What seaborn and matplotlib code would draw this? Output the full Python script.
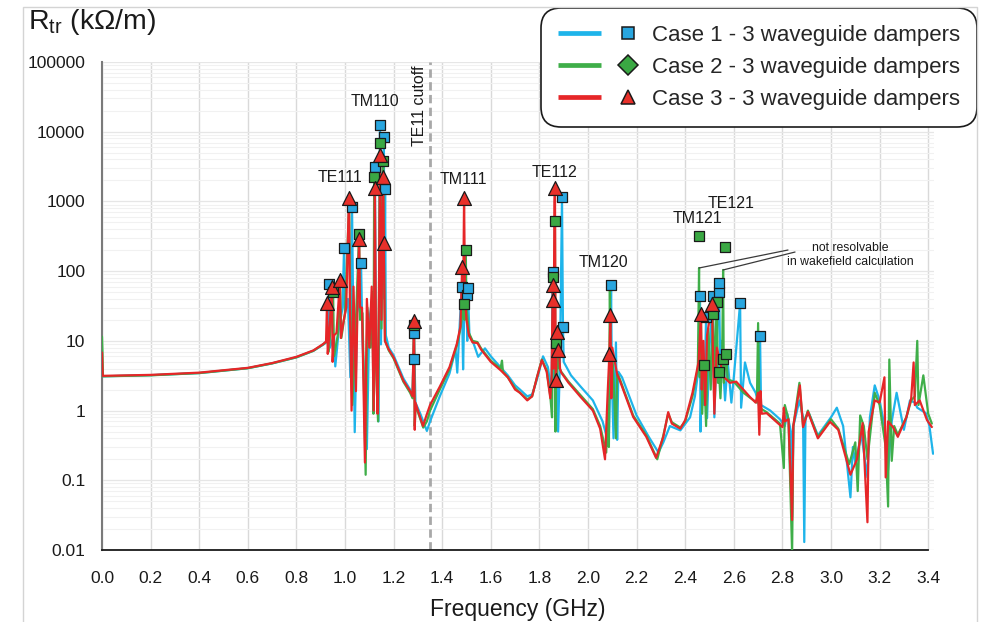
import numpy as np
import pandas as pd
import matplotlib
matplotlib.use("Agg")
import matplotlib.pyplot as plt
import seaborn as sns
from matplotlib.legend_handler import HandlerBase
from matplotlib.lines import Line2D
from matplotlib.patches import Rectangle
from matplotlib.ticker import LogLocator, NullFormatter

# ---------------------------------------------------------------- data
# Transverse impedance spectra (frequency in GHz, R_tr in kOhm/m)
case1_freq = [0.000, 0.20, 0.40, 0.60, 0.70, 0.80, 0.87, 0.91, 0.928, 0.934, 0.938, 0.955, 0.960,
              0.975, 0.990, 0.996, 1.000, 1.012, 1.022, 1.029, 1.034, 1.040, 1.050, 1.060, 1.066,
              1.072, 1.090, 1.100, 1.112, 1.118, 1.123, 1.128, 1.138, 1.144, 1.148, 1.160, 1.162,
              1.165, 1.168, 1.18, 1.20, 1.24, 1.268, 1.278, 1.284, 1.286, 1.29, 1.31, 1.337, 1.35,
              1.39, 1.43, 1.455, 1.462, 1.47, 1.480, 1.486, 1.490, 1.500, 1.503, 1.506, 1.512,
              1.53, 1.548, 1.576, 1.60, 1.64, 1.67, 1.70, 1.72, 1.75, 1.77, 1.79, 1.815, 1.835,
              1.85, 1.855, 1.858, 1.87, 1.877, 1.885, 1.893, 1.897, 1.90, 1.93, 1.97, 2.02, 2.06,
              2.085, 2.090, 2.095, 2.098, 2.105, 2.115, 2.12, 2.125, 2.14, 2.20, 2.25, 2.29, 2.31,
              2.337, 2.38, 2.42, 2.44, 2.455, 2.461, 2.463, 2.47, 2.478, 2.486, 2.49, 2.50, 2.514,
              2.52, 2.53, 2.539, 2.545, 2.55, 2.564, 2.575, 2.59, 2.60, 2.626, 2.63, 2.646, 2.667,
              2.69, 2.703, 2.708, 2.712, 2.75, 2.79, 2.81, 2.82, 2.835, 2.84, 2.845, 2.87, 2.885,
              2.89, 2.895, 2.91, 2.946, 3.00, 3.024, 3.05, 3.08, 3.09, 3.10, 3.125, 3.15, 3.16,
              3.18, 3.20, 3.22, 3.235, 3.25, 3.27, 3.30, 3.325, 3.345, 3.355, 3.39, 3.405, 3.42]
case1_rtr = [3.1, 3.22, 3.45, 4.05, 4.75, 5.8, 7.2, 8.8, 9.8, 65, 8, 12, 4.3,
             15, 30, 214, 25, 40, 3, 830, 20, 0.49, 25, 40, 130,
             10, 0.28, 20, 40, 3, 3100, 10, 0.7, 12500, 8.9, 8400, 40,
             1500, 12, 8, 6.2, 2.9, 2.0, 1.7, 13, 5.5, 1.3, 0.9, 0.51, 0.7,
             1.6, 3.4, 7.5, 3.5, 12, 59, 3.9, 20, 45, 10, 57, 12,
             9, 5.9, 7.8, 6.0, 4.2, 3.2, 2.3, 2.0, 1.6, 1.7, 2.8, 6.0, 4.2,
             1.8, 97, 3, 10, 0.5, 6, 1160, 16, 5, 3.2, 2.2, 1.4, 0.7,
             0.33, 1.5, 63, 3, 0.4, 9.5, 0.38, 3.6, 3.0, 0.85, 0.42, 0.25, 0.35,
             0.6, 0.52, 0.8, 1.6, 4, 44, 0.5, 6, 1.2, 22, 0.78, 8, 44,
             0.8, 10, 68, 3, 10, 1.4, 5, 1.3, 3, 35, 1.1, 4.9, 2.5,
             1.8, 1.2, 11.7, 1.2, 1.0, 0.75, 0.6, 0.9, 0.5, 0.03, 0.6, 1.4, 0.8,
             0.013, 0.8, 0.9, 0.44, 0.8, 1.1, 0.6, 0.057, 0.3, 0.18, 0.45, 0.11, 0.8,
             2.3, 1.4, 0.6, 0.14, 0.7, 1.8, 0.53, 1.4, 1.3, 1.1, 0.92, 0.6, 0.24]

case2_freq = [0.000, 0.002, 0.004, 0.20, 0.40, 0.60, 0.70, 0.80, 0.87, 0.91, 0.924, 0.930, 0.933,
              0.951, 0.955, 0.97, 0.98, 0.985, 1.00, 1.017, 1.022, 1.03, 1.045, 1.058, 1.062,
              1.072, 1.085, 1.092, 1.105, 1.113, 1.117, 1.120, 1.126, 1.136, 1.144, 1.150, 1.157,
              1.160, 1.165, 1.18, 1.20, 1.24, 1.268, 1.278, 1.284, 1.287, 1.29, 1.30, 1.322,
              1.337, 1.35, 1.39, 1.43, 1.46, 1.475, 1.488, 1.492, 1.497, 1.500, 1.51, 1.525,
              1.545, 1.56, 1.60, 1.64, 1.646, 1.65, 1.67, 1.70, 1.72, 1.75, 1.77, 1.79, 1.81,
              1.83, 1.845, 1.852, 1.857, 1.860, 1.864, 1.866, 1.868, 1.872, 1.878, 1.883, 1.89,
              1.92, 1.97, 2.02, 2.05, 2.075, 2.082, 2.086, 2.090, 2.094, 2.10, 2.115, 2.12, 2.13,
              2.186, 2.24, 2.285, 2.31, 2.33, 2.345, 2.38, 2.40, 2.43, 2.452, 2.457, 2.460,
              2.465, 2.470, 2.477, 2.486, 2.495, 2.505, 2.514, 2.52, 2.53, 2.535, 2.539, 2.545,
              2.552, 2.556, 2.559, 2.568, 2.575, 2.60, 2.64, 2.67, 2.695, 2.70, 2.705, 2.735,
              2.79, 2.806, 2.81, 2.825, 2.84, 2.845, 2.87, 2.885, 2.905, 2.946, 3.00, 3.03,
              3.075, 3.10, 3.11, 3.12, 3.135, 3.15, 3.18, 3.20, 3.225, 3.235, 3.24, 3.25, 3.26,
              3.275, 3.31, 3.33, 3.345, 3.355, 3.36, 3.38, 3.40, 3.415]
case2_rtr = [11.5, 6.9, 3.1, 3.2, 3.45, 4.05, 4.75, 5.8, 7.2, 8.9, 9.7, 15, 7,
             50, 6, 12, 60, 11, 25, 900, 30, 1.2, 20, 340, 20,
             25, 0.12, 30, 8, 50, 0.9, 2240, 6, 0.7, 6900, 15, 3800,
             150, 10, 7.3, 5.6, 2.6, 1.8, 1.5, 17, 0.6, 1.2, 0.95, 0.57,
             0.7, 1.0, 2.0, 3.9, 8.5, 15, 34, 20, 200, 30, 13, 10,
             9.6, 7.8, 5.2, 4.0, 5.2, 3.6, 3.0, 2.1, 1.8, 1.45, 1.6, 3.0, 5.4,
             3.8, 1.6, 0.8, 82, 5, 525, 0.5, 9.3, 3, 8, 4, 3.6,
             2.6, 1.65, 1.05, 0.6, 0.25, 1.2, 0.3, 60, 2, 7, 0.4, 3.4, 2.9,
             0.85, 0.44, 0.2, 0.44, 0.9, 0.68, 0.57, 0.7, 1.6, 4, 111, 3,
             20, 0.9, 4.5, 0.6, 15, 2, 24, 3, 36, 2.5, 3.6, 1.5,
             5.5, 104, 2.5, 6.5, 2.8, 2.6, 1.8, 1.5, 1.3, 18, 1.1, 0.95,
             0.65, 0.15, 1.2, 0.75, 0.009, 0.6, 2.5, 0.6, 1.0, 0.42, 0.75, 0.55,
             0.17, 0.35, 0.07, 0.85, 0.6, 0.2, 1.8, 1.2, 0.3, 0.042, 5.4, 0.19, 0.6,
             0.45, 0.8, 1.4, 1.6, 10, 1.2, 3.2, 0.9, 0.65]

case3_freq = [0.000, 0.003, 0.20, 0.40, 0.60, 0.70, 0.80, 0.87, 0.91, 0.922, 0.926, 0.929, 0.935,
              0.946, 0.949, 0.955, 0.965, 0.979, 0.983, 0.995, 1.005, 1.016, 1.020, 1.027, 1.035,
              1.045, 1.052, 1.058, 1.062, 1.070, 1.082, 1.090, 1.100, 1.110, 1.118, 1.123, 1.128,
              1.134, 1.140, 1.144, 1.150, 1.157, 1.160, 1.164, 1.18, 1.20, 1.24, 1.268, 1.278,
              1.284, 1.287, 1.29, 1.30, 1.321, 1.335, 1.35, 1.39, 1.43, 1.46, 1.475, 1.482, 1.486,
              1.490, 1.494, 1.50, 1.51, 1.525, 1.545, 1.56, 1.60, 1.64, 1.67, 1.70, 1.72, 1.75,
              1.77, 1.79, 1.81, 1.83, 1.845, 1.850, 1.854, 1.856, 1.858, 1.862, 1.864, 1.866,
              1.868, 1.872, 1.877, 1.880, 1.885, 1.89, 1.92, 1.97, 2.02, 2.05, 2.07, 2.08, 2.088,
              2.092, 2.096, 2.10, 2.12, 2.13, 2.186, 2.24, 2.28, 2.31, 2.33, 2.345, 2.38, 2.40,
              2.43, 2.455, 2.465, 2.468, 2.475, 2.482, 2.49, 2.51, 2.515, 2.52, 2.53, 2.55, 2.56,
              2.584, 2.61, 2.667, 2.69, 2.70, 2.705, 2.71, 2.715, 2.735, 2.79, 2.80, 2.806, 2.81,
              2.825, 2.84, 2.845, 2.872, 2.885, 2.905, 2.946, 2.996, 3.03, 3.08, 3.107, 3.13,
              3.15, 3.155, 3.18, 3.20, 3.22, 3.225, 3.235, 3.255, 3.275, 3.31, 3.33, 3.34,
              3.345, 3.365, 3.395, 3.415]
case3_rtr = [6.8, 3.15, 3.25, 3.5, 4.1, 4.8, 5.9, 7.3, 9.0, 9.8, 35, 6.5, 12,
             60, 5.0, 12, 13, 74, 11, 20, 30, 1120, 40, 1.0, 60,
             1.9, 40, 290, 30, 30, 0.18, 40, 8, 60, 1.0, 1550, 5,
             0.9, 50, 4600, 20, 2240, 250, 10, 7.5, 5.8, 2.7, 1.9, 1.6,
             19, 0.53, 1.3, 1.0, 0.6, 0.85, 1.2, 2.2, 4.2, 9, 16, 115, 30,
             1120, 40, 20, 12, 9.5, 9.3, 7.5, 5.0, 3.8, 3.0, 2.0, 1.8, 1.4,
             1.6, 3.0, 5.3, 3.6, 1.5, 3, 38, 63, 4, 1000, 1550, 20,
             2.75, 13.4, 7.4, 8, 4, 3.5, 2.5, 1.56, 1.0, 0.55, 0.2, 1.5, 6.5,
             23.4, 1.5, 8, 3.3, 2.75, 0.81, 0.42, 0.21, 0.42, 0.95, 0.65, 0.55, 0.73,
             1.8, 5, 24, 2, 10, 1.2, 12, 34, 5, 0.9, 8, 4, 3.0,
             2.5, 2.6, 1.56, 1.3, 1.8, 0.45, 1.9, 0.9, 0.92, 0.62, 0.58, 1.1, 0.7,
             0.75, 0.027, 0.6, 2.3, 0.58, 0.96, 0.40, 0.69, 0.53, 0.12, 0.2, 0.66,
             0.025, 0.5, 1.4, 1.3, 3.0, 0.11, 0.7, 0.58, 0.42, 0.8, 1.5, 4.9,
             1.2, 1.4, 0.73, 0.58]

# Resonant modes found by the eigenmode solver
case1_mode_freq = [0.934, 0.996, 1.029, 1.066, 1.123, 1.144, 1.160, 1.165, 1.284, 1.284, 1.480,
                   1.500, 1.506, 1.855, 1.893, 1.897, 2.095, 2.461, 2.486, 2.514, 2.539, 2.539,
                   2.626, 2.708]
case1_mode_rtr = [65, 214, 830, 130, 3100, 12500, 8400, 1500, 13, 5.5, 59,
                  45, 57, 97, 1160, 16, 63, 44, 22, 44, 50, 68,
                  35, 11.7]
case2_mode_freq = [0.951, 1.058, 1.120, 1.144, 1.157, 1.284, 1.490, 1.497, 1.857, 1.864, 1.868,
                   2.457, 2.477, 2.514, 2.530, 2.539, 2.556, 2.564, 2.568]
case2_mode_rtr = [50, 340, 2240, 6900, 3800, 17, 34, 200, 82, 525, 9.3,
                  316, 4.5, 24, 36, 3.6, 5.5, 222, 6.5]
case3_mode_freq = [0.926, 0.946, 0.979, 1.016, 1.058, 1.123, 1.144, 1.157, 1.160, 1.284, 1.482,
                   1.490, 1.856, 1.854, 1.864, 1.868, 1.872, 1.877, 2.088, 2.092, 2.465, 2.510]
case3_mode_rtr = [35, 60, 74, 1120, 290, 1550, 4600, 2240, 250, 19, 115,
                  1120, 63, 38, 1550, 2.75, 13.4, 7.4, 6.5, 23.4, 24, 34]

case_labels = ["Case 1 - 3 waveguide dampers",
               "Case 2 - 3 waveguide dampers",
               "Case 3 - 3 waveguide dampers"]
mode_names = ["TE111", "TM110", "TM111", "TE112", "TM120", "TM121", "TE121"]
y_ticks = [0.01, 0.1, 1, 10, 100, 1000, 10000, 100000]
y_tick_labels = ["0.01", "0.1", "1", "10", "100", "1000", "10000", "100000"]
x_ticks = [0.0, 0.2, 0.4, 0.6, 0.8, 1.0, 1.2, 1.4, 1.6, 1.8, 2.0, 2.2, 2.4, 2.6, 2.8, 3.0, 3.2, 3.4]
te11_cutoff = 1.35

# ---------------------------------------------------------------- style
sns.set_theme(style="white")
plt.rcParams["font.family"] = ["Liberation Sans", "DejaVu Sans"]
plt.rcParams["mathtext.fontset"] = "custom"
plt.rcParams["mathtext.rm"] = "Liberation Sans"
plt.rcParams["mathtext.it"] = "Liberation Sans:italic"
plt.rcParams["mathtext.bf"] = "Liberation Sans:bold"

c_blue, c_green, c_red = "#1eb4ea", "#3fae49", "#e62628"
m_blue, m_green, m_red = "#29a6df", "#3aa843", "#e8302a"

W, H = 994, 622
fig = plt.figure(figsize=(W / 100, H / 100), dpi=100)
x_max = 3.425
ax = fig.add_axes([102 / W, 1 - 550 / H, (243 * x_max) / W, 488 / H])
ax.set_yscale("log")

# outer frame of the figure panel
fig.patches.append(Rectangle((23 / W, -0.02), (977 - 23) / W, 1 - 7 / H + 0.02,
                             transform=fig.transFigure, fill=False,
                             ec="#d4d4d4", lw=1.0, zorder=0))

# grid
ax.set_axisbelow(True)
ax.yaxis.set_minor_locator(LogLocator(base=10, subs=np.arange(2, 10)))
ax.yaxis.set_minor_formatter(NullFormatter())
ax.grid(True, which="major", axis="x", color="#d9d9d9", lw=1.0)
ax.grid(True, which="major", axis="y", color="#e6e6e6", lw=0.9)
ax.grid(True, which="minor", axis="y", color="#f1f1f1", lw=0.8)

# TE11 cutoff
ax.axvline(te11_cutoff, color="#a8a8a8", ls=(0, (3, 1.6)), lw=2.0, zorder=1.5)

# impedance spectra
lw = 1.6
for fr, rt, col, z in [(case1_freq, case1_rtr, c_blue, 2),
                       (case2_freq, case2_rtr, c_green, 3),
                       (case3_freq, case3_rtr, c_red, 4)]:
    df = pd.DataFrame({"f": fr, "r": rt})
    sns.lineplot(data=df, x="f", y="r", ax=ax, color=col, lw=lw,
                 estimator=None, sort=False, zorder=z)

# eigenmodes
sns.scatterplot(x=case1_mode_freq, y=case1_mode_rtr, ax=ax, marker="s", s=52,
                color=m_blue, edgecolor="#1a1a1a", linewidth=0.9, zorder=6)
sns.scatterplot(x=case2_mode_freq, y=case2_mode_rtr, ax=ax, marker="s", s=52,
                color=m_green, edgecolor="#1a1a1a", linewidth=0.9, zorder=7)
sns.scatterplot(x=case3_mode_freq, y=case3_mode_rtr, ax=ax, marker="^", s=100,
                color=m_red, edgecolor="#1a1a1a", linewidth=0.9, zorder=8)

# axes
ax.set_xlim(0, x_max)
ax.set_ylim(0.01, 100000)
ax.set_xticks(x_ticks)
ax.set_xticklabels([f"{t:.1f}" for t in x_ticks])
ax.set_yticks(y_ticks)
ax.set_yticklabels(y_tick_labels)
for s in ["top", "right"]:
    ax.spines[s].set_visible(False)
ax.spines["left"].set_color("#7a7a7a")
ax.spines["left"].set_linewidth(1.5)
ax.spines["bottom"].set_color("#1a1a1a")
ax.spines["bottom"].set_linewidth(1.3)
ax.spines["bottom"].set_bounds(0, 3.4)
ax.tick_params(axis="y", which="major", direction="out", length=5, width=1.2,
               color="#555555", pad=7, labelsize=12.5, labelcolor="#1a1a1a")
ax.tick_params(axis="y", which="minor", length=0)
ax.tick_params(axis="x", which="major", direction="out", length=5, width=1.2,
               color="#1a1a1a", pad=10, labelsize=12.5, labelcolor="#1a1a1a")
ax.set_xlabel("Frequency (GHz)", fontsize=16.5, color="#1a1a1a", labelpad=9)
ax.set_ylabel("")
fig.text(28 / W, 1 - 22 / H, r"R$_{\mathrm{tr}}$ (kΩ/m)", fontsize=20.5,
         ha="left", va="center", color="#1a1a1a")

# mode labels
label_pos = {"TE111": (0.979, 2170), "TM110": (1.123, 26700), "TM111": (1.486, 2030),
             "TE112": (1.864, 2630), "TM120": (2.062, 135), "TM121": (2.449, 578),
             "TE121": (2.588, 948)}
for name in mode_names:
    fx, fy = label_pos[name]
    ax.text(fx, fy, name, fontsize=11.5, ha="center", va="center", color="#1a1a1a", zorder=9)
ax.text(1.305, 23400, "TE11 cutoff", rotation=90, fontsize=11.5,
        ha="center", va="center", color="#1a1a1a")

# modes beyond wakefield resolution
ax.plot([2.457, 2.823], [111, 201], color="#3a3a3a", lw=0.9, zorder=9)
ax.plot([2.556, 2.852], [104, 188], color="#3a3a3a", lw=0.9, zorder=9)
ax.text(3.08, 170, "not resolvable\nin wakefield calculation", fontsize=8.8,
        ha="center", va="center", color="#1a1a1a", linespacing=1.15)


# legend: line segment followed by the marker
class LineThenMarker(HandlerBase):
    def create_artists(self, legend, orig_handle, xdescent, ydescent, width, height,
                       fontsize, trans):
        line, mark = orig_handle
        y = (height - ydescent) / 2
        seg = Line2D([-xdescent, -xdescent + 0.54 * width], [y, y],
                     color=line.get_color(), lw=line.get_linewidth(),
                     solid_capstyle="butt")
        pt = Line2D([-xdescent + 0.875 * width], [y], ls="none",
                    marker=mark.get_marker(), markersize=mark.get_markersize(),
                    markerfacecolor=mark.get_markerfacecolor(),
                    markeredgecolor=mark.get_markeredgecolor(),
                    markeredgewidth=mark.get_markeredgewidth())
        seg.set_transform(trans)
        pt.set_transform(trans)
        return [seg, pt]


handles = []
for lc, mc, mk, ms in [(c_blue, m_blue, "s", 9), (c_green, m_green, "D", 10),
                       (c_red, m_red, "^", 10.5)]:
    handles.append((Line2D([], [], color=lc, lw=3.4),
                    Line2D([], [], ls="none", marker=mk, markersize=ms,
                           markerfacecolor=mc, markeredgecolor="#1a1a1a",
                           markeredgewidth=1.1)))
leg = ax.legend(handles, case_labels, handler_map={tuple: LineThenMarker()},
                loc="upper right", bbox_to_anchor=(977 / W, 1 - 8 / H),
                bbox_transform=fig.transFigure, borderaxespad=0, fontsize=16,
                handlelength=3.6, handletextpad=0.65, borderpad=0.75,
                labelspacing=0.5, frameon=True, fancybox=True, framealpha=1)
frame = leg.get_frame()
frame.set_edgecolor("#1a1a1a")
frame.set_linewidth(1.2)
frame.set_boxstyle("round,pad=0,rounding_size=0.9")
leg.set_zorder(20)

fig.savefig("out.png", dpi=100)
